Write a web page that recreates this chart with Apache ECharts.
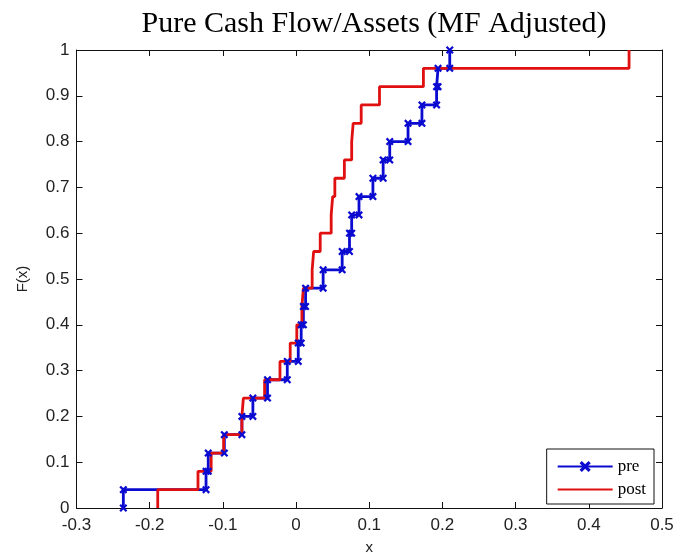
<!DOCTYPE html>
<html>
<head>
<meta charset="utf-8">
<script src="https://cdn.jsdelivr.net/npm/echarts@6/dist/echarts.min.js"></script>
<style>
  html, body { margin: 0; padding: 0; background: #fff; }
  #chart { width: 691px; height: 560px; }
</style>
</head>
<body>
<div id="chart"></div>
<script>
// Sorted sample values for each period (empirical CDF, 25 observations each)
const preX = [-0.236, -0.123, -0.120, -0.098, -0.074, -0.059, -0.039, -0.012, 0.003, 0.007,
              0.010, 0.013, 0.037, 0.063, 0.073, 0.076, 0.086, 0.105, 0.119, 0.128,
              0.153, 0.172, 0.192, 0.194, 0.210];
const postX = [-0.189, -0.134, -0.116, -0.099, -0.074, -0.072, -0.043, -0.022, -0.008, 0.001,
               0.008, 0.010, 0.022, 0.024, 0.033, 0.048, 0.050, 0.053, 0.066, 0.076,
               0.078, 0.089, 0.114, 0.174, 0.455];
const seriesNames = ['pre', 'post'];
const xRange = [-0.3, 0.5];
const yRange = [0, 1];
const tickStep = 0.1;

// Staircase vertices: each observation adds a vertical jump of 1/n at its value
function ecdfPath(xs) {
  const n = xs.length;
  const pts = [];
  xs.forEach((x, i) => {
    pts.push([x, i / n]);
    pts.push([x, (i + 1) / n]);
  });
  return pts;
}

const fmt = v => String(parseFloat(v.toFixed(1)));
const tickFont = { fontFamily: 'Liberation Sans', fontSize: 17, color: '#222' };
const crossMarker = 'path://M2,0 L5,3 L8,0 L10,2 L7,5 L10,8 L8,10 L5,7 L2,10 L0,8 L3,5 L0,2 Z';

const axisCommon = {
  type: 'value',
  interval: tickStep,
  axisLine: { show: true, onZero: false, lineStyle: { color: '#111', width: 1 } },
  axisTick: { show: true, inside: true, length: 6, lineStyle: { color: '#111' } },
  splitLine: { show: false }
};

const chart = echarts.init(document.getElementById('chart'), null, { renderer: 'canvas' });
chart.setOption({
  backgroundColor: '#fff',
  animation: false,
  title: {
    text: 'Pure Cash Flow/Assets (MF Adjusted)',
    left: 369,
    textAlign: 'center',
    top: 4,
    textStyle: { fontFamily: 'Liberation Serif', fontSize: 30, fontWeight: 'normal', color: '#000' }
  },
  grid: { left: 76.5, right: 29, top: 50, bottom: 48.5, containLabel: false },
  legend: {
    orient: 'vertical',
    right: 37,
    bottom: 56,
    backgroundColor: '#fff',
    borderColor: '#111',
    borderWidth: 1,
    borderRadius: 0,
    padding: [9, 8, 6, 10],
    itemWidth: 55,
    itemHeight: 14,
    itemGap: 6,
    textStyle: { fontFamily: 'Liberation Serif', fontSize: 17, color: '#000' },
    data: [
      { name: seriesNames[0] },
      { name: seriesNames[1], itemStyle: { opacity: 0 } }
    ]
  },
  xAxis: [
    Object.assign({}, axisCommon, {
      position: 'bottom', min: xRange[0], max: xRange[1],
      name: 'x', nameLocation: 'middle', nameGap: 32,
      nameTextStyle: { fontFamily: 'Liberation Sans', fontSize: 15, color: '#222' },
      axisLabel: Object.assign({ margin: 9, formatter: fmt }, tickFont)
    }),
    Object.assign({}, axisCommon, {
      position: 'top', min: xRange[0], max: xRange[1], axisLabel: { show: false }
    })
  ],
  yAxis: [
    Object.assign({}, axisCommon, {
      position: 'left', min: yRange[0], max: yRange[1],
      name: 'F(x)', nameLocation: 'middle', nameGap: 46, nameRotate: 90,
      nameTextStyle: { fontFamily: 'Liberation Sans', fontSize: 15, color: '#222' },
      axisLabel: Object.assign({ margin: 7, formatter: fmt }, tickFont)
    }),
    Object.assign({}, axisCommon, {
      position: 'right', min: yRange[0], max: yRange[1], axisLabel: { show: false }
    })
  ],
  series: [
    {
      name: seriesNames[0],
      type: 'line',
      xAxisIndex: 0, yAxisIndex: 0,
      data: ecdfPath(preX),
      clip: false,
      symbol: crossMarker,
      symbolSize: 8,
      showAllSymbol: true,
      itemStyle: { color: '#0a0ad0' },
      lineStyle: { color: '#0a0ad0', width: 2.8 }
    },
    {
      name: seriesNames[1],
      type: 'line',
      xAxisIndex: 0, yAxisIndex: 0,
      data: ecdfPath(postX),
      clip: false,
      symbol: 'none',
      itemStyle: { color: '#e01010' },
      lineStyle: { color: '#e01010', width: 2.8 }
    }
  ]
});
</script>
</body>
</html>
